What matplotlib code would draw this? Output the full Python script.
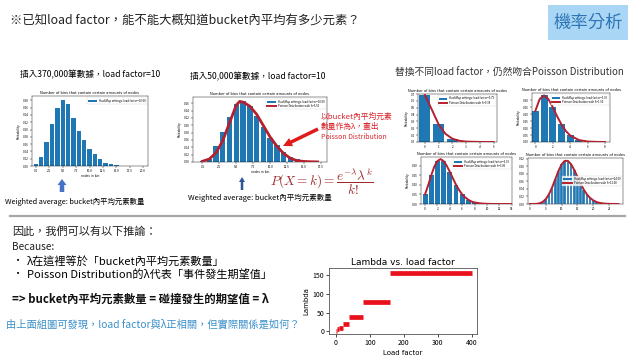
import numpy as np
import matplotlib
matplotlib.use("Agg")
import matplotlib.pyplot as plt
from matplotlib.patches import FancyArrow, Rectangle

plt.rcParams['font.family'] = ['Noto Sans CJK TC', 'DejaVu Sans']
plt.rcParams['mathtext.fontset'] = 'cm'

# %% data
c1_k = list(range(17))
c1_p = [0.0055, 0.024, 0.066, 0.114, 0.159, 0.180, 0.171, 0.133, 0.096,
        0.071, 0.048, 0.032, 0.018, 0.009, 0.0045, 0.002, 0.001]

c2_k = list(range(17))
c2_p = [0.002, 0.008, 0.044, 0.081, 0.122, 0.157, 0.165, 0.152, 0.125,
        0.094, 0.066, 0.045, 0.026, 0.013, 0.007, 0.0025, 0.001]
c2_cx = [0, 1, 2, 3, 4, 5, 5.5, 6, 7, 8, 9, 10, 11, 12, 13, 14, 15, 16, 17]
c2_cy = [0.002, 0.008, 0.025, 0.058, 0.107, 0.155, 0.165, 0.163, 0.152, 0.130,
         0.099, 0.068, 0.043, 0.023, 0.010, 0.0035, 0.0015, 0.0007, 0.0003]

c3_k = [0, 1, 2, 3]
c3_p = [0.687, 0.258, 0.048, 0.006]
c3_cx = [0, 0.5, 1, 1.5, 2, 2.5, 3, 4, 5]
c3_cy = [0.687, 0.475, 0.258, 0.119, 0.048, 0.018, 0.006, 0.0005, 0.0]

c4_k = [0, 1, 2, 3, 4, 5, 6, 7, 8]
c4_p = [0.223, 0.335, 0.251, 0.126, 0.047, 0.014, 0.0035, 0.0008, 0.0001]
c4_cx = [0, 0.5, 1, 1.5, 2, 2.5, 3, 3.5, 4, 5, 6, 7, 8]
c4_cy = [0.223, 0.308, 0.335, 0.308, 0.251, 0.185, 0.126, 0.079, 0.047,
         0.014, 0.0035, 0.0008, 0.0001]

c5_k = list(range(15))
c5_p = [0.050, 0.149, 0.224, 0.224, 0.168, 0.101, 0.050, 0.022, 0.008,
        0.003, 0.001, 0.0002, 0.0, 0.0, 0.0]
c5_cx = [0, 0.5, 1, 1.5, 2, 2.5, 3, 3.5, 4, 4.5, 5, 5.5, 6, 6.5, 7, 7.5, 8,
         9, 10, 11, 12, 13, 14]
c5_cy = [0.050, 0.097, 0.149, 0.195, 0.224, 0.234, 0.224, 0.200, 0.168, 0.134,
         0.101, 0.073, 0.050, 0.034, 0.022, 0.013, 0.008, 0.003, 0.001,
         0.0002, 0.0001, 0.0, 0.0]

c6_k = list(range(29))
c6_p = [0.0, 0.0001, 0.0004, 0.0018, 0.0053, 0.0127, 0.0255, 0.0437, 0.0655,
        0.0874, 0.1048, 0.1144, 0.1144, 0.1056, 0.0905, 0.0724, 0.0543,
        0.0383, 0.0255, 0.0161, 0.0097, 0.0055, 0.0030, 0.0016, 0.0008,
        0.0004, 0.0002, 0.0001, 0.0]

lf_start = [0, 2.5, 5, 10, 20, 40, 80, 160]
lf_end = [2.5, 5, 10, 20, 40, 80, 160, 400]
lam = [1.2, 2.5, 5, 10, 20, 39, 78, 156]

W, H = 640, 360
BLUE = '#1f77b4'
RED = '#b5202e'

fig = plt.figure(figsize=(6.4, 3.6), dpi=100)
fig.patch.set_facecolor('white')


def ax_px(x0, y0, x1, y1):
    return fig.add_axes([x0 / W, 1 - y1 / H, (x1 - x0) / W, (y1 - y0) / H])


def small_chart(box, k, p, xlim, ylim, xt, yt, yfmt, cx=None, cy=None,
                lab_bar='', lab_line='', leg_loc='upper right', ylab=True, xlab=''):
    ax = ax_px(*box)
    ax.bar(k, p, width=0.8, color=BLUE, label=lab_bar, zorder=2)
    if cx is not None:
        ax.plot(cx, cy, color=RED, lw=1.4, label=lab_line, zorder=3)
    ax.set_xlim(*xlim)
    ax.set_ylim(*ylim)
    ax.set_xticks(xt)
    ax.set_yticks(yt)
    ax.set_yticklabels([yfmt.format(v) for v in yt])
    ax.tick_params(labelsize=2.2, length=1.2, width=0.3, pad=1)
    for s in ax.spines.values():
        s.set_linewidth(0.3)
    ax.set_title('Number of bins that contain certain amounts of nodes',
                 fontsize=2.6, pad=1.5, family='DejaVu Sans')
    if ylab:
        ax.set_ylabel('Probability', fontsize=2.2, labelpad=1.5, family='DejaVu Sans')
    if xlab:
        ax.set_xlabel(xlab, fontsize=2.2, labelpad=1, family='DejaVu Sans')
    h, l = ax.get_legend_handles_labels()
    order = [1, 0] if cx is not None else [0]
    leg = ax.legend([h[i] for i in order], [l[i] for i in order], loc=leg_loc,
                    fontsize=2.0, frameon=True, handlelength=3, borderpad=0.4,
                    labelspacing=0.2, fancybox=False, edgecolor='#cccccc')
    leg.get_frame().set_linewidth(0.3)
    return ax


# %% upper charts
small_chart((32, 96, 148, 166), c1_k, c1_p, (-0.73, 20.9), (0, 0.192),
            [0, 2.5, 5, 7.5, 10, 12.5, 15, 17.5, 20],
            [0, 0.02, 0.04, 0.06, 0.08, 0.10, 0.12, 0.14, 0.16, 0.18], '{:.2f}',
            lab_bar='HashMap settings: load factor=10.00', xlab='nodes in bin')
plt.gca().set_xticklabels(['0.0', '2.5', '5.0', '7.5', '10.0', '12.5', '15.0', '17.5', '20.0'])

small_chart((193, 97, 327, 162), c2_k, c2_p, (-1.4, 18.4), (0, 0.177),
            [0, 2.5, 5, 7.5, 10, 12.5, 15, 17.5],
            [0, 0.02, 0.04, 0.06, 0.08, 0.10, 0.12, 0.14, 0.16], '{:.2f}',
            cx=c2_cx, cy=c2_cy, xlab='nodes in bin',
            lab_bar='HashMap settings: load factor=10.00',
            lab_line='Poisson Distribution with \u03bb=5.50')
plt.gca().lines[0].set_linewidth(2.0)
plt.gca().set_xticklabels(['0.0', '2.5', '5.0', '7.5', '10.0', '12.5', '15.0', '17.5'])

small_chart((418, 94, 497, 142), c3_k, c3_p, (-0.5, 5.25), (0, 0.70),
            [0, 1, 2, 3, 4, 5], [0, 0.1, 0.2, 0.3, 0.4, 0.5, 0.6, 0.7], '{:.1f}',
            cx=c3_cx, cy=c3_cy,
            lab_bar='HashMap settings: load factor=0.75',
            lab_line='Poisson Distribution with \u03bb=0.38')

small_chart((532, 93, 610, 142), c4_k, c4_p, (-0.38, 8.57), (0, 0.352),
            [0, 2, 4, 6, 8], [0, 0.05, 0.10, 0.15, 0.20, 0.25, 0.30], '{:.2f}',
            cx=c4_cx, cy=c4_cy,
            lab_bar='HashMap settings: load factor=3.00',
            lab_line='Poisson Distribution with \u03bb=1.50')

small_chart((421, 157, 512, 204), c5_k, c5_p, (-0.65, 14.05), (0, 0.245),
            [0, 2, 4, 6, 8, 10, 12, 14], [0, 0.05, 0.10, 0.15, 0.20], '{:.2f}',
            cx=c5_cx, cy=c5_cy,
            lab_bar='HashMap settings: load factor=6.00',
            lab_line='Poisson Distribution with \u03bb=3.00')

small_chart((528, 158, 623, 204), c6_k, c6_p, (-0.6, 29.4), (0, 0.122),
            [0, 5, 10, 15, 20, 25], [0, 0.02, 0.04, 0.06, 0.08, 0.10, 0.12], '{:.2f}',
            cx=c6_k, cy=c6_p, leg_loc='center right', ylab=False,
            lab_bar='HashMap settings: load factor=24.00',
            lab_line='Poisson Distribution with \u03bb=12.00')
for b in plt.gca().patches:
    b.set_edgecolor('white')
    b.set_linewidth(0.2)

# %% Lambda vs load factor
axl = ax_px(329, 268, 477, 334)
for a, b, v in zip(lf_start, lf_end, lam):
    axl.plot([a, b], [v, v], color='#e8101a', lw=3.4, solid_capstyle='butt')
axl.set_xlim(-20, 416)
axl.set_ylim(-7, 168)
axl.set_xticks([0, 100, 200, 300, 400])
axl.set_yticks([0, 50, 100, 150])
axl.tick_params(labelsize=5, length=2, width=0.5, pad=1.5)
for s in axl.spines.values():
    s.set_linewidth(0.6)
    s.set_color('#555555')
axl.set_title('Lambda vs. load factor', fontsize=6.5, pad=2, family='DejaVu Sans')
axl.set_xlabel('Load factor', fontsize=5, labelpad=2, family='DejaVu Sans')
axl.set_ylabel('Lambda', fontsize=5, labelpad=2, family='DejaVu Sans')

# %% overlay for texts, arrows and lines (pixel coordinates)
ov = fig.add_axes([0, 0, 1, 1], zorder=10)
ov.set_xlim(0, W)
ov.set_ylim(H, 0)
ov.axis('off')
ov.patch.set_alpha(0)

ov.text(10, 20, '※已知load factor，能不能大概知道bucket內平均有多少元素？',
        fontsize=8.9, va='center', ha='left', color='#222222')
ov.add_patch(Rectangle((548, 5), 80, 35, facecolor='#a9d6f5', edgecolor='none'))
ov.text(588, 22.5, '機率分析', fontsize=12.5, ha='center', va='center', color='#2e75b6')

ov.text(90, 75, '插入370,000筆數據，load factor=10', fontsize=6.2, ha='center', va='center')
ov.text(258, 77, '插入50,000筆數據，load factor=10', fontsize=6.2, ha='center', va='center')
ov.text(509, 73, '替換不同load factor，仍然吻合Poisson Distribution', fontsize=7.0,
        ha='center', va='center', color='#333333')

ov.add_patch(FancyArrow(62, 192, 0, -13, width=4.5, head_width=9, head_length=6,
                        length_includes_head=True, color='#4472c4', lw=0))
ov.add_patch(FancyArrow(242, 190, 0, -13, width=2.5, head_width=6, head_length=5,
                        length_includes_head=True, color='#2f5597', lw=0))
ov.text(5, 202, 'Weighted average: bucket內平均元素數量', fontsize=5.3, va='center')
ov.text(188, 198, 'Weighted average: bucket內平均元素數量', fontsize=5.4, va='center')

ov.text(321, 117, '以bucket內平均元素', fontsize=5.6, color='#d8232a', va='center')
ov.text(321, 127, '數量作為λ，畫出', fontsize=5.6, color='#d8232a', va='center')
ov.text(321, 137, 'Poisson Distribution', fontsize=5.0, color='#d8232a', va='center')
ov.add_patch(FancyArrow(318, 129, -35, 17, width=3.5, head_width=9, head_length=9,
                        length_includes_head=True, color='#e01b1b', lw=0))
ov.text(322, 182, r'$P(X=k)=\dfrac{e^{-\lambda}\lambda^{k}}{k!}$', fontsize=9.5,
        color='#9e2a2b', ha='center', va='center')

ov.plot([10, 625], [216, 216], color='#a6a6a6', lw=1.6)

ov.text(12, 232, '因此，我們可以有以下推論：', fontsize=8.0, va='center', color='#222222')
ov.text(12, 247, 'Because:', fontsize=7.3, va='center', color='#222222')
ov.text(13, 261, '•', fontsize=7.3, va='center')
ov.text(27, 261, 'λ在這裡等於「bucket內平均元素數量」', fontsize=8.0, va='center')
ov.text(13, 274, '•', fontsize=7.3, va='center')
ov.text(27, 274, 'Poisson Distribution的λ代表「事件發生期望值」', fontsize=8.0, va='center')
ov.text(12, 299, '=> bucket內平均元素數量 = 碰撞發生的期望值 = λ', fontsize=8.2,
        va='center', fontweight='bold', color='#111111')
ov.text(6, 325, '由上面組圖可發現，load factor與λ正相關，但實際關係是如何？',
        fontsize=7.4, va='center', color='#3a8fc8')

fig.savefig('out.png', dpi=100, facecolor='white')
